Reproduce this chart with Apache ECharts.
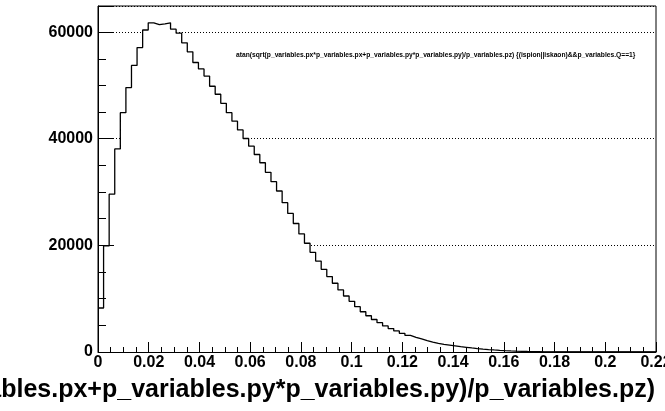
<!DOCTYPE html>
<html>
<head>
<meta charset="utf-8">
<script src="https://cdn.jsdelivr.net/npm/echarts@6/dist/echarts.min.js"></script>
<style>
html,body{margin:0;padding:0;background:#fff;}
#c{width:665px;height:411px;}
</style>
</head>
<body>
<div id="c"></div>
<script>
// Histogram definition: 100 bins over [0, 0.22]
const binLow = 0;
const binHigh = 0.22;
const binCount = 100;
const counts = [
  8250, 19900, 29600, 38100, 44900, 49600, 53750, 57100, 60400, 61750,
  61400, 61550, 61750, 60550, 59800, 58000, 56300, 54300, 53100, 51750,
  49850, 48350, 46650, 44900, 43300, 41650, 40050, 38600, 37050, 35500,
  33700, 31950, 30200, 28000, 26000, 24100, 22150, 20400, 18700, 17050,
  15500, 14150, 12900, 11650, 10500, 9500, 8500, 7550, 6800, 6100,
  5500, 4900, 4400, 3950, 3500, 3120, 2750, 2440, 2120, 1870,
  1630, 1450, 1300, 1150, 1000, 880, 760, 650, 550, 460,
  380, 310, 250, 200, 160, 125, 95, 72, 55, 40,
  30, 22, 15, 10, 6, 4, 2, 1, 0, 0,
  0, 0, 0, 0, 0, 0, 0, 0, 0, 0
];
const xTicks = [0, 0.02, 0.04, 0.06, 0.08, 0.1, 0.12, 0.14, 0.16, 0.18, 0.2, 0.22];
const yTicks = [0, 20000, 40000, 60000];
const yMax = 64900;
const histTitle = 'atan(sqrt(p_variables.px*p_variables.px+p_variables.py*p_variables.py)/p_variables.pz) {(ispion||iskaon)&&p_variables.Q==1}';
const xTitle = 'atan(sqrt(p_variables.px*p_variables.px+p_variables.py*p_variables.py)/p_variables.pz)';

const binWidth = (binHigh - binLow) / binCount;
const stepData = counts.map((v, i) => [binLow + i * binWidth, v]);
stepData.push([binHigh, counts[counts.length - 1]]);

const FONT = '"Liberation Sans", Arial, Helvetica, sans-serif';
const chart = echarts.init(document.getElementById('c'), null, {renderer: 'canvas'});
chart.setOption({
  animation: false,
  backgroundColor: '#fff',
  title: [
    {
      text: histTitle, left: 236, top: 52, padding: 0,
      textStyle: {fontFamily: FONT, fontSize: 6.7, fontWeight: 'bold', color: '#000'}
    },
    {
      text: xTitle, right: 10, top: 378, padding: 0,
      textStyle: {fontFamily: FONT, fontSize: 25, fontWeight: 'bold', color: '#000'}
    }
  ],
  grid: {
    left: 98, right: 9, top: 6, bottom: 59,
    outerBoundsMode: 'none', containLabel: false,
    show: true, borderColor: '#000', borderWidth: 1, backgroundColor: 'transparent'
  },
  xAxis: {
    type: 'value', min: xTicks[0], max: xTicks[xTicks.length - 1], interval: xTicks[1] - xTicks[0],
    z: 5,
    axisLine: {show: true, lineStyle: {color: '#000', width: 1}},
    axisTick: {show: true, inside: true, length: 10, lineStyle: {color: '#000'}},
    minorTick: {show: true, splitNumber: 4, length: 5, lineStyle: {color: '#000'}},
    splitLine: {show: false},
    axisLabel: {
      margin: 3, color: '#000', fontFamily: FONT, fontSize: 16, fontWeight: 'bold',
      formatter: v => String(+v.toFixed(4))
    }
  },
  yAxis: [
    {
      type: 'value', min: yTicks[0], max: yMax, interval: yTicks[1] - yTicks[0],
      z: 0,
      axisLine: {show: false}, axisTick: {show: false}, axisLabel: {show: false},
      splitLine: {show: true, lineStyle: {color: '#000', width: 1, type: [1, 2]}}
    },
    {
      type: 'value', min: yTicks[0], max: yMax, interval: yTicks[1] - yTicks[0],
      position: 'left', z: 5,
      axisLine: {show: true, lineStyle: {color: '#000', width: 1}},
      axisTick: {show: true, inside: true, length: 16, lineStyle: {color: '#000'}},
      minorTick: {show: true, splitNumber: 4, length: 8, lineStyle: {color: '#000'}},
      splitLine: {show: false},
      axisLabel: {
        margin: 5, color: '#000', fontFamily: FONT, fontSize: 16, fontWeight: 'bold',
        showMaxLabel: false, formatter: v => String(v)
      }
    }
  ],
  series: [{
    type: 'line', yAxisIndex: 0, step: 'end', data: stepData,
    showSymbol: false, symbol: 'none', z: 2,
    lineStyle: {color: '#000', width: 1.3},
    areaStyle: {color: '#fff', opacity: 1}
  }]
});
</script>
</body>
</html>
